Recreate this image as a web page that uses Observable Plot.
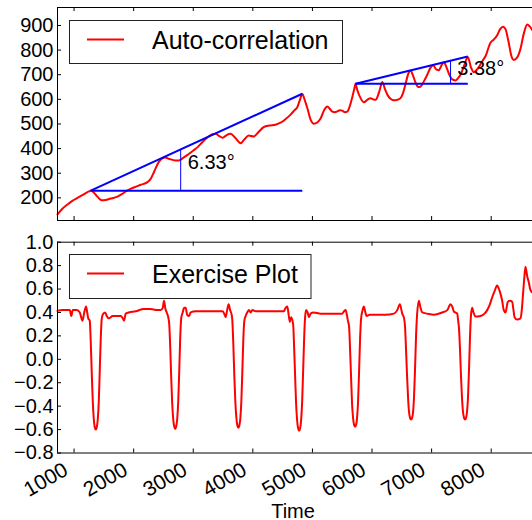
<!DOCTYPE html>
<html>
<head>
<meta charset="utf-8">
<script src="https://cdn.jsdelivr.net/npm/d3@7"></script>
<script src="https://cdn.jsdelivr.net/npm/@observablehq/plot@0.6"></script>
<style>
  html, body { margin: 0; padding: 0; background: #fff; overflow: hidden; }
  #fig { position: relative; width: 532px; height: 520px; }
  #fig > svg { display: block; }
</style>
</head>
<body>
<div id="fig"></div>
<script>
// ---- Auto-correlation series (top panel) ----
const acTime = [
  722, 800, 889, 970, 1057, 1130, 1196, 1240, 1280, 1330, 1390, 1440, 1476, 1530, 1600, 1728, 1800, 1896,
  2000, 2119, 2231, 2280, 2342, 2420, 2480, 2530, 2600, 2700, 2760, 2830, 2907, 3000, 3074, 3160, 3242,
  3320, 3376, 3430, 3494, 3560, 3628, 3700, 3795, 3860, 3930, 4013, 4100, 4181, 4240, 4299, 4380, 4466,
  4550, 4634, 4700, 4746, 4790, 4830, 4870, 4914, 4970, 5025, 5080, 5137, 5200, 5250, 5290, 5333, 5375,
  5417, 5460, 5501, 5545, 5585, 5630, 5669, 5700, 5724, 5750, 5808, 5863, 5920, 5975, 6020, 6060, 6120,
  6172, 6220, 6256, 6310, 6366, 6420, 6479, 6520, 6563, 6610, 6647, 6690, 6730, 6780, 6814, 6870, 6927,
  6980, 7027, 7075, 7121, 7165, 7205, 7250, 7289, 7340, 7401, 7450, 7485, 7550, 7607, 7660, 7708, 7750,
  7792, 7850, 7904, 7988, 8040, 8100, 8150, 8200, 8240, 8290, 8340, 8379, 8430, 8491, 8550, 8604, 8650, 8693
];
const acValue = [
  133, 155, 173, 188, 200, 210, 219, 225, 229, 222, 205, 193, 190, 191, 196, 205, 215, 230,
  242, 253, 264, 275, 305, 345, 360, 364, 358, 352, 352, 362, 375, 392, 406, 428, 446,
  458, 460, 452, 444, 455, 460, 445, 422, 438, 453, 449, 468, 487, 492, 494, 497, 505,
  520, 538, 556, 568, 598, 622, 598, 565, 518, 501, 506, 522, 558, 571, 562, 550, 548,
  551, 556, 554, 548, 550, 575, 609, 640, 663, 640, 605, 588, 598, 604, 600, 598, 630,
  670, 640, 620, 602, 596, 598, 605, 625, 663, 705, 717, 695, 668, 650, 652, 673, 700,
  728, 738, 722, 718, 738, 751, 730, 705, 682, 677, 688, 700, 740, 772, 730, 710, 718,
  731, 755, 775, 830, 842, 860, 885, 895, 885, 835, 775, 760, 768, 805, 870, 904, 895, 880
];

// ---- Exercise series (bottom panel) ----
const exTime = [
  722, 810, 878, 928, 953, 978, 1045, 1096, 1141, 1171, 1201, 1221, 1238,
  1263, 1280, 1297, 1314, 1331, 1347, 1364, 1381, 1398, 1415, 1431, 1448, 1465,
  1490, 1523, 1548, 1582, 1649, 1716, 1783, 1817, 1839, 1867, 1917, 2035, 2169, 2286, 2387, 2454, 2488, 2509, 2533, 2555, 2580,
  2597, 2614, 2630, 2647, 2664, 2681, 2697, 2714, 2731, 2748, 2765, 2781, 2798,
  2823, 2848, 2873, 2898, 2929, 2957, 3041, 3209, 3376, 3494, 3527, 3544, 3569, 3594, 3619, 3645,
  3656, 3673, 3690, 3707, 3724, 3740, 3757, 3774, 3791, 3807, 3824, 3841, 3858,
  3880, 3905, 3935, 3963, 3992, 4047, 4215, 4382, 4522, 4550, 4579, 4601, 4622, 4642,
  4676, 4693, 4710, 4726, 4743, 4760, 4777, 4794, 4810, 4827, 4844, 4861, 4877,
  4894, 4919, 4941, 4970, 5020, 5137, 5305, 5439, 5501, 5531, 5556, 5578, 5595,
  5615, 5632, 5649, 5665, 5682, 5699, 5716, 5733, 5749, 5766, 5783, 5800, 5817,
  5842, 5864, 5884, 5909, 5964, 6060, 6227, 6367, 6424, 6467, 6507, 6538,
  6554, 6571, 6588, 6605, 6621, 6638, 6655, 6672, 6689, 6705, 6722, 6739, 6756,
  6786, 6814, 6843, 6927, 7037, 7178, 7262, 7317, 7346, 7372, 7430, 7443,
  7460, 7477, 7493, 7510, 7527, 7544, 7561, 7577, 7594, 7611, 7628, 7645, 7661,
  7681, 7703, 7737, 7820, 7888, 7933, 7971, 8017, 8055, 8100, 8122, 8144, 8184, 8211, 8240, 8262, 8278,
  8315, 8352, 8374, 8391, 8436, 8491, 8513, 8530, 8553, 8575, 8604, 8630, 8659, 8693
];
const exValue = [
  0.415, 0.42, 0.42, 0.42, 0.37, 0.42, 0.42, 0.40, 0.33, 0.40, 0.45, 0.40, 0.35,
  0.33, 0.15, -0.12, -0.36, -0.51, -0.58, -0.60, -0.58, -0.51, -0.36, -0.10, 0.18, 0.35,
  0.39, 0.40, 0.37, 0.35, 0.37, 0.37, 0.37, 0.35, 0.33, 0.39, 0.40, 0.41, 0.43, 0.43, 0.42, 0.42, 0.44, 0.50, 0.43, 0.40, 0.36,
  0.30, 0.10, -0.15, -0.38, -0.51, -0.575, -0.595, -0.575, -0.51, -0.36, -0.10, 0.18, 0.35,
  0.40, 0.44, 0.44, 0.38, 0.37, 0.40, 0.41, 0.41, 0.41, 0.41, 0.38, 0.36, 0.42, 0.47, 0.42, 0.38,
  0.33, 0.12, -0.15, -0.37, -0.50, -0.565, -0.585, -0.565, -0.50, -0.36, -0.10, 0.18, 0.33,
  0.37, 0.40, 0.42, 0.40, 0.42, 0.41, 0.41, 0.41, 0.41, 0.44, 0.45, 0.38, 0.32, 0.36,
  0.30, 0.10, -0.15, -0.38, -0.52, -0.59, -0.61, -0.59, -0.52, -0.37, -0.10, 0.18, 0.36,
  0.42, 0.40, 0.36, 0.39, 0.40, 0.39, 0.39, 0.39, 0.39, 0.41, 0.42, 0.38, 0.33,
  0.28, 0.08, -0.16, -0.38, -0.50, -0.56, -0.575, -0.56, -0.50, -0.36, -0.10, 0.18, 0.35,
  0.42, 0.45, 0.41, 0.37, 0.38, 0.38, 0.38, 0.39, 0.42, 0.47, 0.39, 0.35,
  0.28, 0.08, -0.14, -0.33, -0.45, -0.50, -0.515, -0.50, -0.45, -0.32, -0.08, 0.20, 0.38,
  0.50, 0.44, 0.40, 0.39, 0.38, 0.40, 0.42, 0.47, 0.45, 0.41, 0.39, 0.34,
  0.26, 0.08, -0.14, -0.33, -0.45, -0.50, -0.515, -0.50, -0.45, -0.32, -0.08, 0.20, 0.38,
  0.44, 0.40, 0.365, 0.37, 0.39, 0.42, 0.46, 0.53, 0.58, 0.63, 0.61, 0.58, 0.50, 0.42, 0.40, 0.45, 0.49,
  0.50, 0.49, 0.42, 0.36, 0.34, 0.35, 0.42, 0.53, 0.68, 0.79, 0.71, 0.66, 0.59, 0.57
];

// ---- Slope annotations on the top panel ----
const angleStartTime = [1280, 5724];
const angleStartValue = [229, 663];
const angleEndTime = [4830, 7607];
const angleDegrees = [6.33, 3.38];
const angleMarkTime = [2789, 7318];
const angleLabelTime = [2907, 7430];
const angleLabelValue = [319, 697];

// ---- Axes ----
const timeDomain = [722, 8693];
const acDomain = [108, 973];
const exDomain = [-0.8, 1.0];
const timeTicks = [1000, 2000, 3000, 4000, 5000, 6000, 7000, 8000];
const acTicks = [200, 300, 400, 500, 600, 700, 800, 900];
const exTicks = [-0.8, -0.6, -0.4, -0.2, 0.0, 0.2, 0.4, 0.6, 0.8, 1.0];
const legendNames = ["Auto-correlation", "Exercise Plot"];

// ---- Build rows ----
const toRows = (t, v) => t.map((time, i) => ({time, value: v[i]}));
const acRows = toRows(acTime, acValue);
const exRows = toRows(exTime, exValue);
const angles = angleDegrees.map((deg, i) => {
  const t0 = angleStartTime[i], v0 = angleStartValue[i], t1 = angleEndTime[i];
  const slope = Math.tan(deg * Math.PI / 180);
  return {
    deg, t0, v0, t1, v1: v0 + slope * (t1 - t0),
    tm: angleMarkTime[i], vm: v0 + slope * (angleMarkTime[i] - t0),
    tl: angleLabelTime[i], vl: angleLabelValue[i]
  };
});

const FONT = '"Liberation Sans", Arial, Helvetica, sans-serif';
const W = 532, LEFT = 57;
const innerW = W - LEFT;
const TOP_H = 221, TOP_MT = 7, TOP_MB = 1;
const BOT_H = 299, BOT_MT = 20.7, BOT_MB = 67.5;
const topInner = TOP_H - TOP_MT - TOP_MB;
const botInner = BOT_H - BOT_MT - BOT_MB;
const fmtMinus = d => d.toFixed(1).replace("-", "\u2212");

const baseStyle = {fontFamily: FONT, fontSize: "20px", color: "#000", background: "#fff", overflow: "visible"};

// Frame on the left, top and bottom, with inward tick marks
function frameAndTicks(yDomain, yTicks, inner) {
  return [
    Plot.tickX(timeTicks, {x: d => d, insetBottom: inner - 4, stroke: "#000", strokeWidth: 1}),
    Plot.tickX(timeTicks, {x: d => d, insetTop: inner - 4, stroke: "#000", strokeWidth: 1}),
    Plot.tickY(yTicks, {y: d => d, insetRight: innerW - 4, stroke: "#000", strokeWidth: 1}),
    Plot.ruleY([yDomain[1]], {stroke: "#000", strokeWidth: 1}),
    Plot.ruleY([yDomain[0]], {stroke: "#000", strokeWidth: 1}),
    Plot.ruleX([timeDomain[0]], {stroke: "#000", strokeWidth: 1})
  ];
}

const topPlot = Plot.plot({
  width: W, height: TOP_H,
  marginLeft: LEFT, marginRight: 0, marginTop: TOP_MT, marginBottom: TOP_MB,
  style: baseStyle,
  x: {domain: timeDomain, axis: null},
  y: {domain: acDomain, axis: null},
  marks: [
    Plot.line(acRows, {x: "time", y: "value", stroke: "#ff0000", strokeWidth: 2, curve: "monotone-x"}),
    Plot.link(angles, {x1: "t0", y1: "v0", x2: "t1", y2: "v1", stroke: "#0000ff", strokeWidth: 2}),
    Plot.link(angles, {x1: "t0", y1: "v0", x2: "t1", y2: "v0", stroke: "#0000ff", strokeWidth: 2}),
    Plot.link(angles, {x1: "tm", y1: "v0", x2: "tm", y2: "vm", stroke: "#0000ff", strokeWidth: 1}),
    Plot.text(angles, {x: "tl", y: "vl", text: d => d.deg.toFixed(2) + "\u00b0",
      textAnchor: "start", lineAnchor: "bottom", fontSize: 20, fill: "#000"}),
    ...frameAndTicks(acDomain, acTicks, topInner),
    Plot.axisY(acTicks, {tickSize: 0, tickPadding: 4, fontSize: 20, tickFormat: d => String(d), label: null})
  ]
});

const bottomPlot = Plot.plot({
  width: W, height: BOT_H,
  marginLeft: LEFT, marginRight: 0, marginTop: BOT_MT, marginBottom: BOT_MB,
  style: baseStyle,
  x: {domain: timeDomain},
  y: {domain: exDomain},
  marks: [
    Plot.line(exRows, {x: "time", y: "value", stroke: "#ff0000", strokeWidth: 2, curve: "monotone-x"}),
    ...frameAndTicks(exDomain, exTicks, botInner),
    Plot.axisY(exTicks, {tickSize: 0, tickPadding: 4, fontSize: 20, tickFormat: fmtMinus, label: null}),
    Plot.axisX(timeTicks, {tickSize: 0, tickPadding: 15, tickRotate: -30, dx: -8, fontSize: 21,
      tickFormat: d => String(d), label: null}),
    Plot.text(["Time"], {text: d => d, frameAnchor: "bottom", dx: -2, dy: 64.5, lineAnchor: "bottom", fontSize: 20, fill: "#000"})
  ]
});

const fig = document.getElementById("fig");
fig.appendChild(topPlot);
fig.appendChild(bottomPlot);

// ---- Legend boxes drawn over the panels ----
const legendBoxes = [
  {x: 69.5, y: 20.5, w: 273, h: 43},
  {x: 69.5, y: 254.5, w: 241.5, h: 44}
];
const overlay = d3.select(fig).append("svg")
  .attr("width", W).attr("height", 520)
  .style("position", "absolute").style("left", "0px").style("top", "0px")
  .style("pointer-events", "none");
legendNames.forEach((name, i) => {
  const b = legendBoxes[i];
  const g = overlay.append("g");
  g.append("rect").attr("x", b.x).attr("y", b.y).attr("width", b.w).attr("height", b.h)
    .attr("fill", "#fff").attr("stroke", "#222").attr("stroke-width", 1);
  g.append("line").attr("x1", 87).attr("x2", 124).attr("y1", b.y + 19).attr("y2", b.y + 19)
    .attr("stroke", "#ff0000").attr("stroke-width", 2);
  g.append("text").attr("x", 152).attr("y", b.y + 28.5)
    .attr("font-family", FONT).attr("font-size", 25).attr("fill", "#000").text(name);
});
</script>
</body>
</html>
